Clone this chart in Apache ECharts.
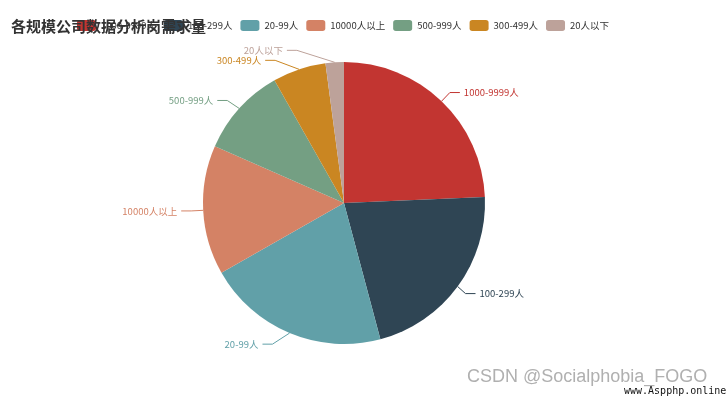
<!DOCTYPE html>
<html>
<head>
<meta charset="utf-8">
<script src="https://cdn.jsdelivr.net/npm/echarts@6/dist/echarts.min.js"></script>
<style>
  html, body { margin: 0; padding: 0; background: #fff; }
  #main { width: 727px; height: 399px; }
</style>
</head>
<body>
<div id="main"></div>
<script>
// 公司规模分类 & 岗位数量
var categories = ["1000-9999人", "100-299人", "20-99人", "10000人以上", "500-999人", "300-499人", "20人以下"];
var counts = [243, 215, 209, 148, 102, 61, 21];
var colors = ["#c23531", "#2f4554", "#61a0a8", "#d48265", "#749f83", "#ca8622", "#bda29a"];

var cx = 344, cy = 203, r = 141;
var len = 12, len2 = 10, labelH = 10;

// 仿 echarts4 的外部标签排布：先按角度放，再同侧防重叠，最后按圆周重算 x
function calcLabels() {
  var total = counts.reduce(function (a, b) { return a + b; }, 0);
  var cum = 0;
  var items = counts.map(function (v, i) {
    var a = (cum + v / 2) / total * Math.PI * 2;
    cum += v;
    var dx = Math.sin(a), dy = -Math.cos(a);
    return {
      idx: i,
      dx: dx,
      dir: dx < 0 ? -1 : 1,
      ex: cx + r * dx,
      ey: cy + r * dy,
      y: cy + (r + len) * dy
    };
  });
  [-1, 1].forEach(function (dir) {
    var side = items.filter(function (it) { return it.dir === dir; });
    side.sort(function (a, b) { return a.y - b.y; });
    for (var k = 1; k < side.length; k++) {
      if (side[k].y < side[k - 1].y + labelH) {
        side[k].y = side[k - 1].y + labelH;
      }
    }
  });
  var R = r + len + len2;
  items.forEach(function (it) {
    var deltaY = Math.abs(it.y - cy);
    var deltaX = deltaY < r + len ? Math.sqrt(R * R - deltaY * deltaY) : len2;
    it.x = cx + deltaX * it.dir;
  });
  var out = [];
  items.forEach(function (it) { out[it.idx] = it; });
  return out;
}
var labelPos = calcLabels();

var chart = echarts.init(document.getElementById("main"));

var pieData = categories.map(function (name, i) {
  return { name: name, value: counts[i] };
});

var option = {
  color: colors,
  title: {
    text: "各规模公司数据分析岗需求量",
    left: 6,
    top: 14,
    z: 10,
    textStyle: {
      fontSize: 15,
      fontWeight: "bold",
      color: "#333",
      fontFamily: "Noto Sans CJK SC"
    }
  },
  legend: {
    data: categories,
    top: 15,
    left: 72,
    z: 2,
    itemWidth: 19,
    itemHeight: 11,
    itemGap: 8,
    textStyle: {
      fontSize: 9.5,
      color: "#333",
      fontFamily: "Noto Sans CJK SC"
    }
  },
  series: [
    {
      name: "需求量",
      type: "pie",
      center: [cx, cy],
      radius: r,
      startAngle: 90,
      avoidLabelOverlap: false,
      data: pieData,
      label: {
        color: "inherit",
        fontSize: 9.5,
        fontFamily: "Noto Sans CJK SC"
      },
      labelLine: {
        length: len,
        length2: len2,
        smooth: false
      },
      labelLayout: function (params) {
        var p = labelPos[params.dataIndex];
        var tx = p.dir < 0 ? p.x - 4 : p.x;
        var lx = p.dir < 0 ? p.x : p.x - 4;
        return {
          x: tx,
          y: p.y,
          align: p.dir < 0 ? "right" : "left",
          verticalAlign: "middle",
          labelLinePoints: [
            [p.ex, p.ey],
            [lx - p.dir * len2, p.y],
            [lx, p.y]
          ]
        };
      },
      itemStyle: { borderWidth: 0 }
    }
  ],
  graphic: [
    {
      type: "text",
      left: 467,
      top: 368,
      style: {
        text: "CSDN @Socialphobia_FOGO",
        fill: "#b0b0b0",
        fontSize: 18,
        fontFamily: "Liberation Sans"
      }
    },
    {
      type: "text",
      left: 624,
      top: 386,
      style: {
        text: "www.Aspphp.online",
        fill: "#111",
        fontSize: 10,
        fontFamily: "DejaVu Sans Mono"
      }
    }
  ]
};

chart.setOption(option);
</script>
</body>
</html>
